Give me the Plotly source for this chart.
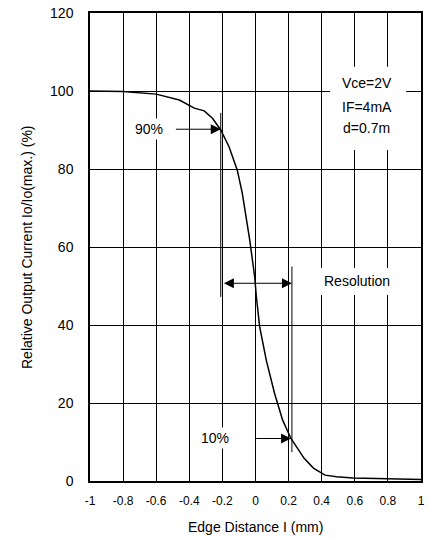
import plotly.graph_objects as go

# Curve data (Edge distance in mm, relative output current in %)
edge_mm = [-1.0, -0.8, -0.6, -0.46, -0.37, -0.31, -0.26, -0.21, -0.16, -0.11, -0.08,
           -0.035, -0.005, 0.005, 0.025, 0.065, 0.115, 0.164, 0.214, 0.294, 0.35,
           0.42, 0.49, 0.59, 0.8, 0.99, 1.0]
rel_current = [100.0, 99.9, 99.2, 97.7, 95.6, 94.9, 93.0, 90.0, 85.7, 79.7, 73.8,
               61.8, 52.4, 47.3, 39.6, 31.0, 22.5, 15.6, 10.9, 5.8, 3.3,
               1.5, 1.1, 0.8, 0.6, 0.4, 0.4]

x_ticks = [-1, -0.8, -0.6, -0.4, -0.2, 0, 0.2, 0.4, 0.6, 0.8, 1]
x_tick_labels = ["-1", "-0.8", "-0.6", "-0.4", "-0.2", "0", "0.2", "0.4", "0.6", "0.8", "1"]
y_ticks = [0, 20, 40, 60, 80, 100, 120]
y_tick_labels = ["0", "20", "40", "60", "80", "100", "120"]

# Resolution markers
x90, x10 = -0.21, 0.22
cond_lines = ["Vce=2V", "IF=4mA", "d=0.7m"]
cond_y = [102.1, 96.0, 90.4]

FONT = "Liberation Sans, Arial, sans-serif"
TXT = dict(size=14, color="black", family=FONT)

fig = go.Figure()
fig.add_trace(go.Scatter(x=edge_mm, y=rel_current, mode="lines",
                         line=dict(color="black", width=1.5), showlegend=False,
                         hoverinfo="skip"))

shapes = [
    # white boxes behind the labels (hide gridlines)
    dict(type="rect", xref="x", yref="y", x0=0.451, x1=0.91, y0=84.9, y1=106.2,
         fillcolor="white", line=dict(width=0), layer="above"),
    dict(type="rect", xref="x", yref="y", x0=0.331, x1=0.899, y0=47.7, y1=54.6,
         fillcolor="white", line=dict(width=0), layer="above"),
    dict(type="line", xref="x", yref="y", x0=x90, x1=x90, y0=47.2, y1=94.4,
         line=dict(color="black", width=1)),
    dict(type="line", xref="x", yref="y", x0=x10, x1=x10, y0=7.4, y1=55,
         line=dict(color="black", width=1)),
]

annotations = []
for t, yy in zip(cond_lines, cond_y):
    annotations.append(dict(x=0.672, y=yy, xref="x", yref="y", text=t, showarrow=False,
                            font=TXT, xanchor="center", yanchor="middle"))
annotations += [
    dict(x=0.612, y=51.4, xref="x", yref="y", text="Resolution", showarrow=False, font=TXT),
    dict(x=-0.642, y=90.2, xref="x", yref="y", text="90%", showarrow=False,
         bgcolor="white", font=TXT, borderpad=2),
    dict(x=x90, y=90.2, ax=-0.49, ay=90.2, xref="x", yref="y", axref="x", ayref="y",
         text="", showarrow=True, arrowhead=2, arrowsize=2, arrowwidth=1, arrowcolor="black"),
    dict(x=-0.244, y=10.9, xref="x", yref="y", text="10%", showarrow=False,
         bgcolor="white", font=TXT, borderpad=2),
    dict(x=x10 - 0.005, y=10.9, ax=-0.005, ay=10.9, xref="x", yref="y", axref="x", ayref="y",
         text="", showarrow=True, arrowhead=2, arrowsize=2, arrowwidth=1, arrowcolor="black"),
    dict(x=x10, y=50.7, ax=x90 + 0.01, ay=50.7, xref="x", yref="y", axref="x", ayref="y",
         text="", showarrow=True, arrowhead=2, startarrowhead=2, arrowside="end+start",
         arrowsize=2, startarrowsize=2, arrowwidth=1, arrowcolor="black"),
    # axis titles
    dict(x=0, y=0.5, xref="paper", yref="paper", text="Relative Output Current Io/Io(max.) (%)",
         textangle=-90, showarrow=False, xanchor="center", yanchor="middle", xshift=-63,
         font=TXT),
    dict(x=0.5, y=0, xref="paper", yref="paper", text="Edge Distance I (mm)",
         showarrow=False, xanchor="center", yanchor="middle", yshift=-46, font=TXT),
]

fig.update_layout(
    width=430, height=538,
    margin=dict(l=90, r=5, t=13, b=57),
    paper_bgcolor="white", plot_bgcolor="white",
    font=dict(family=FONT, color="black"),
    shapes=shapes, annotations=annotations,
    xaxis=dict(range=[-1, 1], tickvals=x_ticks, ticktext=x_tick_labels,
               showgrid=True, gridcolor="black", gridwidth=1,
               showline=True, linecolor="black", linewidth=1.8, mirror=True,
               zeroline=False, ticks="", tickfont=dict(size=12), ticklabelstandoff=8,
               ticklabeloverflow="allow"),
    yaxis=dict(range=[0, 120], tickvals=y_ticks, ticktext=y_tick_labels,
               showgrid=True, gridcolor="black", gridwidth=1,
               showline=True, linecolor="black", linewidth=1.5, mirror=True,
               zeroline=False, ticks="", tickfont=dict(size=14), ticklabelstandoff=12,
               ticklabeloverflow="allow"),
)

fig.write_html("out.html", config={"displayModeBar": False},
               post_script="document.body.style.margin='0px';")
